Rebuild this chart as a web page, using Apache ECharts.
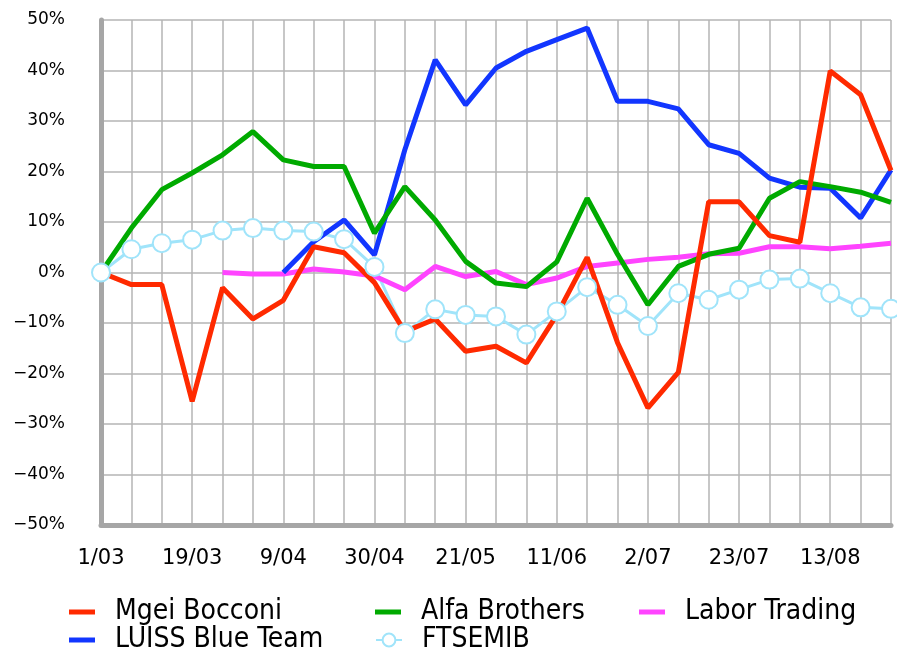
<!DOCTYPE html>
<html>
<head>
<meta charset="utf-8">
<script src="https://cdn.jsdelivr.net/npm/echarts@6/dist/echarts.min.js"></script>
<style>
  html, body { margin: 0; padding: 0; background: #fff; }
  #chart { width: 897px; height: 653px; }
</style>
</head>
<body>
<div id="chart"></div>
<script>
// weekly dates (only every third one is labelled)
var dates = ['1/03','5/03','12/03','19/03','26/03','2/04','9/04','16/04','23/04','30/04',
             '7/05','14/05','21/05','28/05','4/06','11/06','18/06','25/06','2/07','9/07',
             '16/07','23/07','30/07','6/08','13/08','20/08','27/08'];

var bocconi = [0, -2.4, -2.4, -25.5, -3.0, -9.2, -5.5, 5.1, 3.9, -2.0,
               -11.7, -9.2, -15.6, -14.6, -17.9, -8.4, 3.0, -13.9, -26.8, -19.8,
               14.0, 14.0, 7.3, 6.0, 39.9, 35.2, 20.2];
var luiss = [null, null, null, null, null, null, 0, 6.1, 10.4, 3.5,
             24.3, 42.1, 33.2, 40.5, 43.8, 46.1, 48.4, 33.9, 33.9, 32.4,
             25.3, 23.6, 18.7, 16.9, 16.7, 10.8, 20.3];
var alfa = [0, 8.8, 16.4, 19.7, 23.3, 27.9, 22.3, 21.0, 21.0, 7.8,
            17.0, 10.4, 2.2, -2.1, -2.8, 2.1, 14.7, 3.6, -6.4, 1.2,
            3.6, 4.8, 14.7, 18.0, 17.0, 15.9, 13.9];
var labor = [null, null, null, null, 0, -0.3, -0.3, 0.7, 0.1, -0.7,
             -3.4, 1.2, -0.8, 0.2, -2.4, -1.1, 1.2, 1.9, 2.6, 3.0,
             3.7, 3.8, 5.1, 5.1, 4.7, 5.2, 5.8];
var ftsemib = [0, 4.6, 5.8, 6.5, 8.3, 8.8, 8.3, 8.1, 6.6, 1.1,
               -12.0, -7.3, -8.4, -8.7, -12.3, -7.7, -2.9, -6.4, -10.6, -4.1,
               -5.4, -3.4, -1.4, -1.2, -4.1, -6.9, -7.2];

var FONT = 'DejaVu Sans';

var chart = echarts.init(document.getElementById('chart'), null, { renderer: 'canvas' });

function lineSeries(name, data, color, width) {
    return {
        name: name,
        type: 'line',
        data: data,
        symbol: 'none',
        connectNulls: false,
        lineStyle: { color: color, width: width },
        itemStyle: { color: color },
        animation: false
    };
}

// one legend per entry so the three-column layout can be placed by hand
function legendItem(name, left, top, isSymbol) {
    return {
        data: [isSymbol ? { name: name } : { name: name, icon: 'rect' }],
        left: left,
        top: top,
        padding: 0,
        itemWidth: 26,
        itemHeight: isSymbol ? 16 : 5,
        textStyle: {
            fontFamily: 'DejaVu Sans Condensed', fontSize: 28, color: '#000',
            padding: [0, 0, 0, 15]
        }
    };
}

var option = {
    backgroundColor: '#fff',
    grid: { left: 101, right: 6, top: 20, bottom: 128 },
    legend: [
        legendItem('Mgei Bocconi', 69, 598, false),
        legendItem('LUISS Blue Team', 69, 626, false),
        legendItem('Alfa Brothers', 375, 598, false),
        legendItem('FTSEMIB', 375, 626, true),
        legendItem('Labor Trading', 639, 598, false)
    ],
    xAxis: {
        type: 'category',
        data: dates,
        boundaryGap: false,
        axisLine: { onZero: false, lineStyle: { color: '#a6a6a6', width: 5 } },
        axisTick: { show: false },
        axisLabel: { interval: 2, color: '#000', fontFamily: FONT, fontSize: 21, margin: 23 },
        splitLine: { show: true, interval: 0, lineStyle: { color: '#b4b4b4', width: 1.5 } }
    },
    yAxis: {
        type: 'value',
        min: -50,
        max: 50,
        interval: 10,
        axisLine: { show: true, lineStyle: { color: '#a6a6a6', width: 5 } },
        axisTick: { show: false },
        axisLabel: {
            color: '#000', fontFamily: FONT, fontSize: 17, margin: 36,
            formatter: function (v) { return String(v).replace('-', '\u2212') + '%'; }
        },
        splitLine: { show: true, lineStyle: { color: '#b4b4b4', width: 1.5 } }
    },
    series: [
        {
            name: 'FTSEMIB',
            type: 'line',
            data: ftsemib,
            symbol: 'emptyCircle',
            symbolSize: 18,
            showAllSymbol: true,
            lineStyle: { color: '#a0e4fa', width: 3 },
            itemStyle: { color: '#a0e4fa', borderWidth: 3 },
            animation: false
        },
        lineSeries('Labor Trading', labor, '#ff44ff', 5),
        lineSeries('LUISS Blue Team', luiss, '#1236ff', 5),
        lineSeries('Alfa Brothers', alfa, '#00aa00', 5),
        lineSeries('Mgei Bocconi', bocconi, '#ff2a00', 5)
    ]
};

chart.setOption(option);
</script>
</body>
</html>
